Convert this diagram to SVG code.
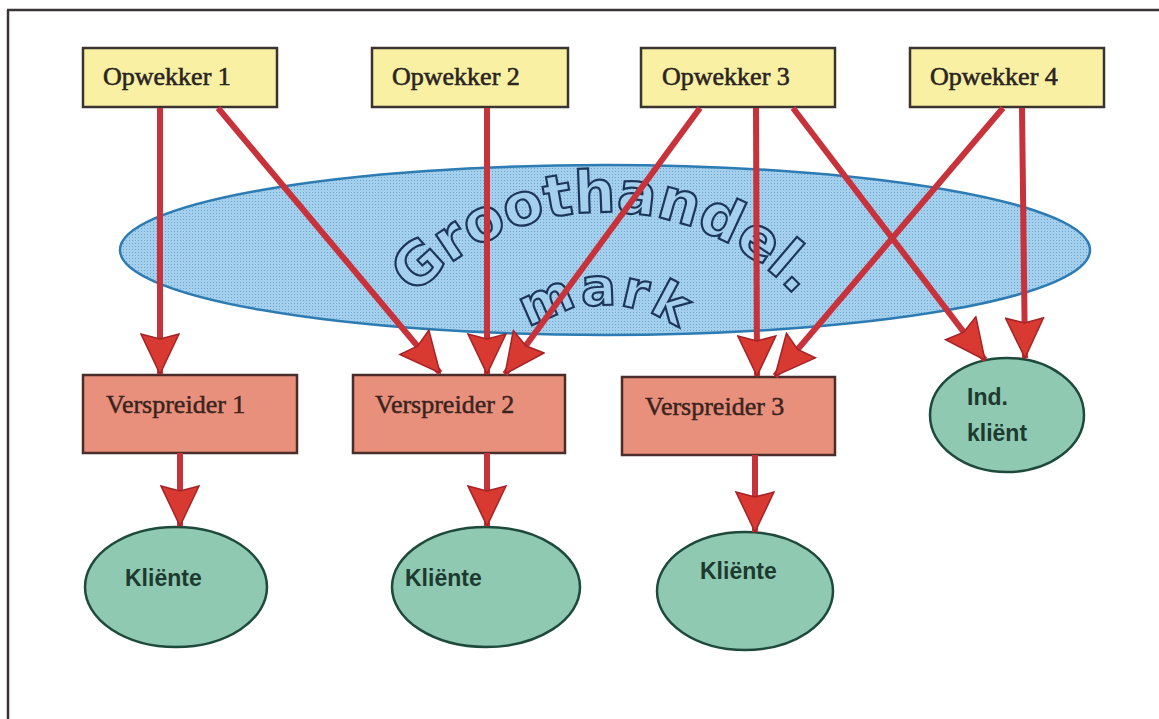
<svg xmlns="http://www.w3.org/2000/svg" width="1159" height="719" viewBox="0 0 1159 719">
<defs>
<marker id="ah" viewBox="0 0 42 40" refX="41" refY="20" markerWidth="42" markerHeight="40" markerUnits="userSpaceOnUse" orient="auto">
<path d="M1,1 L41,20 L1,39 L6,20 Z" fill="#d83a32" stroke="#a52326" stroke-width="1.5"/>
</marker>
<pattern id="dots" width="3" height="3" patternUnits="userSpaceOnUse">
<rect width="3" height="3" fill="#a4d0ed"/>
<rect width="1" height="1" fill="#6aa6cd"/>
</pattern>
<style>
.opw rect{fill:#f9f0a4;stroke:#3a3430;stroke-width:2.5}
.opw text{font-family:"Liberation Serif",serif;font-size:26px;fill:#2a2522;stroke:#2a2522;stroke-width:0.6}
.ver rect{fill:#e8907c;stroke:#4a2c2a;stroke-width:2.5}
.ver text{font-family:"Liberation Serif",serif;font-size:26px;fill:#3a2420;stroke:#3a2420;stroke-width:0.5}
.kli ellipse{fill:#8fc9b1;stroke:#1e4a3c;stroke-width:2.5}
.kli text{font-family:"Liberation Sans",Arial,sans-serif;font-weight:bold;font-size:23px;fill:#1d3a30}
.arr line{stroke:#c8323a;stroke-width:6}
.word{font-family:"DejaVu Sans",sans-serif;font-weight:bold;fill:#a4d0ed;stroke:#1c3558;stroke-width:2.2}
</style>
</defs>
<rect width="1159" height="719" fill="#ffffff"/>
<g id="frame" stroke="#3a3434" stroke-width="2.5" fill="none">
<line x1="7" y1="10" x2="1159" y2="10"/>
<line x1="8" y1="10" x2="8" y2="719"/>
</g>
<g id="groothandel">
<ellipse cx="605" cy="250" rx="485" ry="85" fill="url(#dots)" stroke="#2c7bb2" stroke-width="2.5"/>
<path id="arc1" d="M 347,470 A 258 258 0 0 1 863,470" fill="none"/>
<path id="arc2" d="M 478,432 A 127 127 0 0 1 732,432" fill="none"/>
<text class="word" font-size="58"><textPath href="#arc1" startOffset="50%" text-anchor="middle">Groothandel.</textPath></text>
<text class="word" font-size="52" letter-spacing="3"><textPath href="#arc2" startOffset="50%" text-anchor="middle">mark</textPath></text>
</g>
<g id="opwekker1" class="opw"><rect x="83" y="48" width="194" height="59"/><text x="103" y="85">Opwekker 1</text></g>
<g id="opwekker2" class="opw"><rect x="372" y="48" width="196" height="59"/><text x="392" y="85">Opwekker 2</text></g>
<g id="opwekker3" class="opw"><rect x="641" y="48" width="194" height="59"/><text x="662" y="85">Opwekker 3</text></g>
<g id="opwekker4" class="opw"><rect x="910" y="48" width="194" height="59"/><text x="930" y="85">Opwekker 4</text></g>
<g id="verspreider1" class="ver"><rect x="83" y="375" width="214" height="78"/><text x="106" y="413">Verspreider 1</text></g>
<g id="verspreider2" class="ver"><rect x="353" y="375" width="212" height="78"/><text x="375" y="413">Verspreider 2</text></g>
<g id="verspreider3" class="ver"><rect x="622" y="377" width="213" height="78"/><text x="645" y="415">Verspreider 3</text></g>
<g id="indklient" class="kli"><ellipse cx="1007" cy="415" rx="77" ry="57"/><text x="967" y="405">Ind.</text><text x="967" y="441">kliënt</text></g>
<g id="kliente1" class="kli"><ellipse cx="176" cy="587" rx="91" ry="60"/><text x="125" y="586">Kliënte</text></g>
<g id="kliente2" class="kli"><ellipse cx="486" cy="587" rx="94" ry="60"/><text x="405" y="586">Kliënte</text></g>
<g id="kliente3" class="kli"><ellipse cx="745" cy="591" rx="88" ry="59"/><text x="700" y="579">Kliënte</text></g>
<g id="connectors" class="arr">
<line x1="160" y1="108" x2="160" y2="374" marker-end="url(#ah)"/>
<line x1="218" y1="108" x2="440" y2="373" marker-end="url(#ah)"/>
<line x1="487" y1="108" x2="487" y2="374" marker-end="url(#ah)"/>
<line x1="700" y1="108" x2="505" y2="374" marker-end="url(#ah)"/>
<line x1="756" y1="108" x2="757" y2="376" marker-end="url(#ah)"/>
<line x1="793" y1="108" x2="985" y2="360" marker-end="url(#ah)"/>
<line x1="1003" y1="108" x2="775" y2="376" marker-end="url(#ah)"/>
<line x1="1022" y1="108" x2="1025" y2="358" marker-end="url(#ah)"/>
<line x1="180" y1="453" x2="180" y2="526" marker-end="url(#ah)"/>
<line x1="487" y1="453" x2="487" y2="526" marker-end="url(#ah)"/>
<line x1="755" y1="455" x2="755" y2="532" marker-end="url(#ah)"/>
</g>
</svg>
